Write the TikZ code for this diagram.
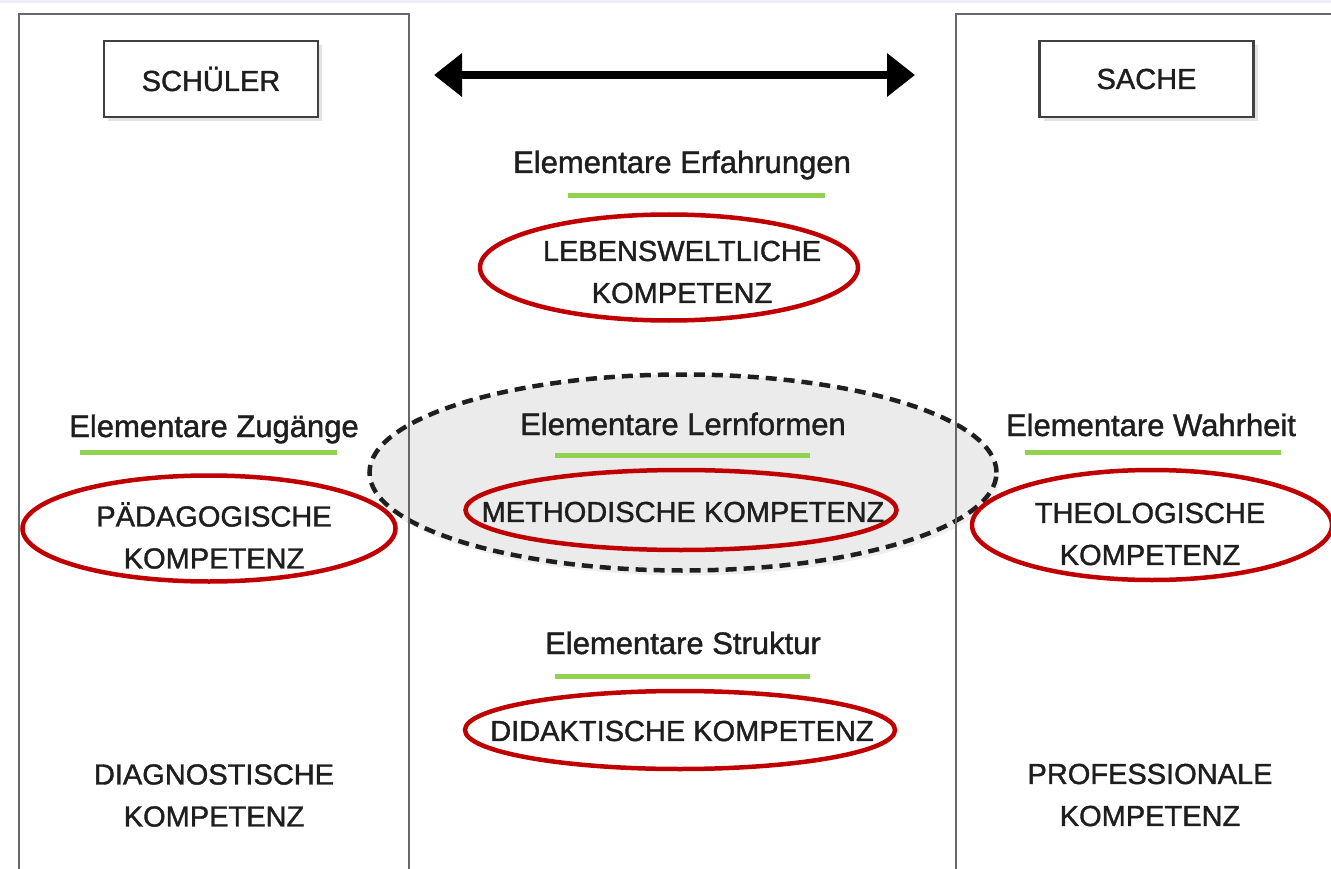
\documentclass[tikz,border=0pt]{standalone}
\usepackage{fontspec}
\setmainfont{Liberation Sans}
\newfontfamily\dfont{Liberation Sans}[FakeBold=1.3]
\usetikzlibrary{shapes.geometric,arrows.meta,shadows}
\definecolor{redE}{HTML}{C00000}
\definecolor{greenL}{HTML}{92D050}
\definecolor{txt}{HTML}{1E1E1E}
\definecolor{framec}{HTML}{686868}
\definecolor{topband}{HTML}{EEEEF8}
\begin{document}
\begin{tikzpicture}[x=1pt,y=-1pt,
  capstxt/.style={font=\dfont\fontsize{29}{42}\selectfont, text=txt, align=center, inner sep=0pt},
  elemtxt/.style={font=\dfont\fontsize{31}{36}\selectfont, text=txt, anchor=base, inner sep=0pt},
  greenline/.style={draw=greenL, line width=5pt},
  redell/.style={ellipse, draw=redE, line width=4.5pt, inner sep=0pt},
  panel/.style={draw=framec, line width=2.5pt},
  labelbox/.style={draw=black!75, line width=2.5pt, fill=white, minimum width=214pt, minimum height=76pt,
    font=\dfont\fontsize{29}{34}\selectfont, text=txt,
    drop shadow={opacity=0.22, shadow xshift=4pt, shadow yshift=-4pt}},
  bigarrow/.style={line width=7.5pt, {Triangle[length=28pt,width=42pt]}-{Triangle[length=28pt,width=42pt]}}
]
\useasboundingbox[fill=white] (0,0) rectangle (1331,869);
\fill[topband] (0,0) rectangle (1331,3);

% gray dashed ellipse (behind panels)
\node[ellipse, fill=black!8, draw=black!88, line width=4.5pt, dash pattern=on 11pt off 7pt,
  minimum width=627pt, minimum height=196pt, inner sep=0pt,
  drop shadow={opacity=0.12, shadow xshift=3pt, shadow yshift=-5pt}] (grayell) at (683,472.5) {};

% panels
\draw[panel] (19,875) -- (19,14) -- (409,14) -- (409,875);
\draw[panel] (956,875) -- (956,14) -- (1340,14);

% header boxes
\node[labelbox] (schueler) at (211,79) {SCHÜLER};
\node[labelbox] (sache) at (1146.5,79) {SACHE};

% double arrow
\coordinate (arrL) at (434,75);
\coordinate (arrR) at (915,75);
\draw[bigarrow] (arrL) -- (arrR);

% Elementare Erfahrungen
\node[elemtxt] (erf) at (682,173) {Elementare Erfahrungen};
\draw[greenline] (568,196) -- (825,196);
\node[redell, minimum width=378pt, minimum height=106pt] (eleb) at (669,267.5) {};
\node[capstxt] (leb) at (682,272) {LEBENSWELTLICHE\\KOMPETENZ};

% Elementare Zugänge
\node[elemtxt] (zug) at (214,437) {Elementare Zugänge};
\draw[greenline] (80,452) -- (337,452);
\node[redell, minimum width=373pt, minimum height=106pt] (eped) at (209,528.5) {};
\node[capstxt] (ped) at (214,535.5) {PÄDAGOGISCHE\\KOMPETENZ};

% Elementare Lernformen
\node[elemtxt] (lern) at (683,435) {Elementare Lernformen};
\draw[greenline] (555,455) -- (810,455);
\node[redell, minimum width=431pt, minimum height=80pt] (emeth) at (681,510) {};
\node[capstxt] (meth) at (683,512) {METHODISCHE KOMPETENZ};

% Elementare Wahrheit
\node[elemtxt] (wahr) at (1151,436) {Elementare Wahrheit};
\draw[greenline] (1025,452) -- (1281,452);
\node[redell, minimum width=360pt, minimum height=110pt] (etheo) at (1152,525) {};
\node[capstxt] (theo) at (1150,534) {THEOLOGISCHE\\KOMPETENZ};

% Elementare Struktur
\node[elemtxt] (strk) at (683,654) {Elementare Struktur};
\draw[greenline] (555,676) -- (810,676);
\node[redell, minimum width=430pt, minimum height=78pt] (edid) at (680,730) {};
\node[capstxt] (did) at (682,731) {DIDAKTISCHE KOMPETENZ};

% bottom texts
\node[capstxt] (diag) at (214,795.5) {DIAGNOSTISCHE\\KOMPETENZ};
\node[capstxt] (prof) at (1150,795) {PROFESSIONALE\\KOMPETENZ};
\end{tikzpicture}
\end{document}
